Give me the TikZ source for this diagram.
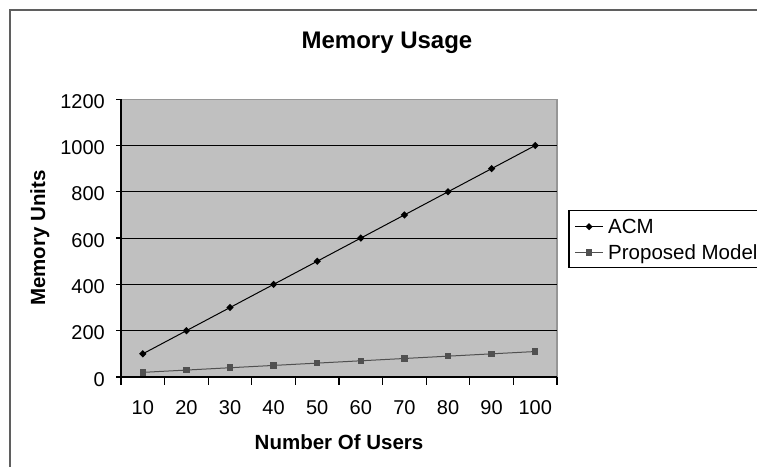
\documentclass[tikz,border=0pt]{standalone}
\usepackage{fontspec}
\setmainfont{Liberation Sans}
\usetikzlibrary{shapes.geometric}

\definecolor{plotgray}{RGB}{192,192,192}
\definecolor{edgegray}{RGB}{150,150,150}
\definecolor{framegray}{RGB}{95,95,95}
\definecolor{propgray}{RGB}{80,80,80}

\tikzset{
  acm/.style={diamond,fill=black,inner sep=0pt,minimum size=7.5pt},
  prop/.style={rectangle,fill=propgray,inner sep=0pt,minimum size=6.5pt},
  ticklabel/.style={font=\fontsize{20}{24}\selectfont,inner sep=0pt,anchor=base},
  axistitle/.style={font=\bfseries\fontsize{20.5}{24}\selectfont,inner sep=0pt,anchor=base}
}

\begin{document}
\begin{tikzpicture}[x=1pt,y=1pt]
\useasboundingbox (0,0) rectangle (757,466);
\fill[white] (0,0) rectangle (757,466);
\clip (0,0) rectangle (757,466);
% outer frame of the chart (cut off at right and bottom)
\coordinate (FB) at (10,-5);
\coordinate (FT) at (10,456);
\coordinate (FR) at (765,456);
\draw[framegray,line width=2pt] (FB)--(FT)--(FR);
\node[font=\bfseries\fontsize{24}{28}\selectfont,inner sep=0pt,anchor=base] (title) at (387,417.5) {Memory Usage};
\node[axistitle,rotate=90] (ytitle) at (45,228) {Memory Units};
\node[axistitle] (xtitle) at (339,16.7) {Number Of Users};
\begin{scope}[xshift=121pt,yshift=89pt,x=43.6pt,y=0.2315pt]
	\coordinate (O) at (0,0);
	\coordinate (XE) at (10,0);
	\coordinate (YE) at (0,1200);
	\coordinate (TR) at (10,1200);
	\fill[plotgray] (O) rectangle (TR);
	\draw[edgegray,line width=1.2pt] (YE)--(TR)--(XE);
	% grid
	\draw[line width=1pt] (0,200)--(10,200);
	\draw[line width=1pt] (0,400)--(10,400);
	\draw[line width=1pt] (0,600)--(10,600);
	\draw[line width=1pt] (0,800)--(10,800);
	\draw[line width=1pt] (0,1000)--(10,1000);
	% axes
	\draw[line width=1.3pt] (YE)--(O)--(XE);
	\draw[line width=1.2pt] (O)--++(0,-34.6) (1,0)--++(0,-34.6) (2,0)--++(0,-34.6)
		(3,0)--++(0,-34.6) (4,0)--++(0,-34.6) (5,0)--++(0,-34.6) (6,0)--++(0,-34.6)
		(7,0)--++(0,-34.6) (8,0)--++(0,-34.6) (9,0)--++(0,-34.6) (XE)--++(0,-34.6);
	\draw[line width=1.2pt] (O)--++(-0.115,0) (0,200)--++(-0.115,0) (0,400)--++(-0.115,0)
		(0,600)--++(-0.115,0) (0,800)--++(-0.115,0) (0,1000)--++(-0.115,0) (YE)--++(-0.115,0);
	% y labels
	\node[ticklabel,anchor=base east] (y0) at (-0.367,-39) {0};
	\node[ticklabel,anchor=base east] (y200) at (-0.367,161) {200};
	\node[ticklabel,anchor=base east] (y400) at (-0.367,361) {400};
	\node[ticklabel,anchor=base east] (y600) at (-0.367,561) {600};
	\node[ticklabel,anchor=base east] (y800) at (-0.367,761) {800};
	\node[ticklabel,anchor=base east] (y1000) at (-0.367,961) {1000};
	\node[ticklabel,anchor=base east] (y1200) at (-0.367,1161) {1200};
	% x labels
	\node[ticklabel] (x10) at (0.5,-164) {10};
	\node[ticklabel] (x20) at (1.5,-164) {20};
	\node[ticklabel] (x30) at (2.5,-164) {30};
	\node[ticklabel] (x40) at (3.5,-164) {40};
	\node[ticklabel] (x50) at (4.5,-164) {50};
	\node[ticklabel] (x60) at (5.5,-164) {60};
	\node[ticklabel] (x70) at (6.5,-164) {70};
	\node[ticklabel] (x80) at (7.5,-164) {80};
	\node[ticklabel] (x90) at (8.5,-164) {90};
	\node[ticklabel] (x100) at (9.5,-164) {100};
	% ACM
	\coordinate (A1) at (0.5,100);
	\coordinate (A2) at (1.5,200);
	\coordinate (A3) at (2.5,300);
	\coordinate (A4) at (3.5,400);
	\coordinate (A5) at (4.5,500);
	\coordinate (A6) at (5.5,600);
	\coordinate (A7) at (6.5,700);
	\coordinate (A8) at (7.5,800);
	\coordinate (A9) at (8.5,900);
	\coordinate (A10) at (9.5,1000);
	% proposed model
	\coordinate (P1) at (0.5,20);
	\coordinate (P2) at (1.5,30);
	\coordinate (P3) at (2.5,40);
	\coordinate (P4) at (3.5,50);
	\coordinate (P5) at (4.5,60);
	\coordinate (P6) at (5.5,70);
	\coordinate (P7) at (6.5,80);
	\coordinate (P8) at (7.5,90);
	\coordinate (P9) at (8.5,100);
	\coordinate (P10) at (9.5,110);
	\draw[propgray,line width=1pt] (P1)--(P2)--(P3)--(P4)--(P5)--(P6)--(P7)--(P8)--(P9)--(P10);
	\draw (P1) node[prop]{} (P2) node[prop]{} (P3) node[prop]{} (P4) node[prop]{} (P5) node[prop]{}
		(P6) node[prop]{} (P7) node[prop]{} (P8) node[prop]{} (P9) node[prop]{} (P10) node[prop]{};
	\draw[line width=1pt] (A1)--(A2)--(A3)--(A4)--(A5)--(A6)--(A7)--(A8)--(A9)--(A10);
	\draw (A1) node[acm]{} (A2) node[acm]{} (A3) node[acm]{} (A4) node[acm]{} (A5) node[acm]{}
		(A6) node[acm]{} (A7) node[acm]{} (A8) node[acm]{} (A9) node[acm]{} (A10) node[acm]{};
\end{scope}
% legend
\coordinate (LA) at (569,198.7);
\coordinate (LB) at (770,255.3);
\draw[line width=1.3pt] (LA) rectangle (LB);
\coordinate (LA1) at (575,239.3);
\coordinate (LA2) at (603,239.3);
\coordinate (LP1) at (575,213.7);
\coordinate (LP2) at (603,213.7);
\draw[line width=1pt] (LA1)--(LA2) node[midway,acm]{};
\draw[propgray,line width=1pt] (LP1)--(LP2) node[midway,prop]{};
\node[font=\fontsize{20.5}{24}\selectfont,inner sep=0pt,anchor=base west] (lacm) at (608,232) {ACM};
\node[font=\fontsize{20.5}{24}\selectfont,inner sep=0pt,anchor=base west] (lprop) at (608,206.7) {Proposed Model};
\end{tikzpicture}
\end{document}
